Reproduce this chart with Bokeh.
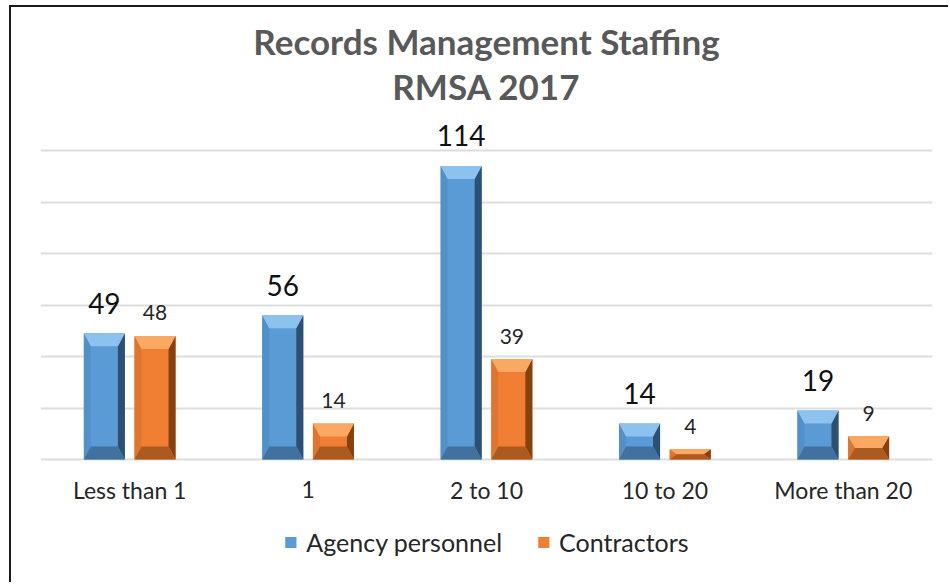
import numpy as np
from bokeh.plotting import figure
from bokeh.models import (ColumnDataSource, FixedTicker, Legend, LegendItem,
                          Label, Grid)
from bokeh.core.properties import value
from bokeh.embed import file_html
from bokeh.resources import INLINE

# ---------------- data ----------------
categories = ["Less than 1", "1", "2 to 10", "10 to 20", "More than 20"]
agency = [49, 56, 114, 14, 19]
contractors = [48, 14, 39, 4, 9]
series_names = ["Agency personnel", "Contractors"]
y_ticks = [0, 20, 40, 60, 80, 100, 120]
title_lines = ["Records Management Staffing", "RMSA 2017"]

# ---------------- layout ----------------
FONT = "Lato"
W, H = 939, 577
BASE_PX = 452              # canvas y of value 0
PX_PER_UNIT = 309 / 120.0  # grid 0..120 spans 309 px
Y_END = BASE_PX / PX_PER_UNIT
Y_START = -(H - BASE_PX) / PX_PER_UNIT

def ypix(py):
    """canvas pixel row -> data value"""
    return (BASE_PX - py) / PX_PER_UNIT

p = figure(width=W, height=H, x_range=(0, len(categories)), y_range=(Y_START, Y_END),
           output_backend="svg", toolbar_location=None,
           x_axis_location=None, y_axis_location=None,
           min_border_left=29, min_border_right=W - 29 - 892,
           min_border_top=0, min_border_bottom=0,
           styles={"margin-left": "9px", "margin-top": "5px",
                   "border-left": "2px solid #1a1a1a", "border-top": "2px solid #1a1a1a"})
p.outline_line_color = None
p.background_fill_color = "white"
p.border_fill_color = "white"
p.xgrid.visible = False
p.ygrid.visible = False
p.add_layout(Grid(dimension=1, ticker=FixedTicker(ticks=y_ticks),
                  grid_line_color="#DDDDDD", grid_line_width=2))

centers = np.arange(len(categories)) + 0.5
OFF = 0.142
BW = 0.23
BX = 7 / 178.4          # bevel width in category units
BY = 13 / PX_PER_UNIT   # bevel height in value units

styles = [
    dict(face="#5B9BD5", top="#8DC1EE", bottom="#41719E", left="#5290C9", right="#2C4F72"),
    dict(face="#F07F33", top="#FBA862", bottom="#AD5A20", left="#E0752D", right="#86410F"),
]

renderers = []
for k, (vals, st) in enumerate(zip([agency, contractors], styles)):
    xs = centers + (-OFF if k == 0 else OFF)
    h = np.array(vals, dtype=float)
    src = ColumnDataSource(dict(x=xs, top=h))
    r = p.vbar(x="x", top="top", width=BW, bottom=0, source=src,
               fill_color=st["face"], line_color=None)
    renderers.append(r)
    x0 = xs - BW / 2
    x1 = xs + BW / 2
    by = np.minimum(BY, h / 2)
    parts = {
        "top": ([[a, b, b - BX, a + BX] for a, b in zip(x0, x1)],
                [[t, t, t - d, t - d] for t, d in zip(h, by)]),
        "bottom": ([[a, b, b - BX, a + BX] for a, b in zip(x0, x1)],
                   [[0, 0, d, d] for d in by]),
        "left": ([[a, a, a + BX, a + BX] for a in x0],
                 [[0, t, t - d, d] for t, d in zip(h, by)]),
        "right": ([[b, b, b - BX, b - BX] for b in x1],
                  [[0, t, t - d, d] for t, d in zip(h, by)]),
    }
    for name in ["left", "right", "top", "bottom"]:
        pxs, pys = parts[name]
        p.patches(pxs, pys, fill_color=st[name], line_color=None)

    # value labels
    lab_src = ColumnDataSource(dict(x=xs, y=h, t=[str(v) for v in vals]))
    p.text(x="x", y="y", text="t", source=lab_src, text_align="center",
           text_baseline="alphabetic", y_offset=(-30 if k == 0 else -23),
           text_font=value(FONT),
           text_font_size=("28px" if k == 0 else "21px"),
           text_color=("#111111" if k == 0 else "#262626"))

# category labels
cat_src = ColumnDataSource(dict(x=centers, y=[ypix(482)] * len(categories), t=categories))
p.text(x="x", y="y", text="t", source=cat_src, text_align="center",
       text_baseline="middle", text_font=value(FONT), text_font_size="23px",
       text_color="#262626")

# title
for i, line in enumerate(title_lines):
    p.add_layout(Label(x=len(categories) / 2, y=ypix(33 + 45 * i), text=line,
                       text_align="center", text_baseline="middle",
                       text_font=FONT, text_font_size="35px",
                       text_font_style="bold", text_color="#595959"))

legend = Legend(items=[LegendItem(label=n, renderers=[r]) for n, r in zip(series_names, renderers)],
                orientation="horizontal", location="bottom_center",
                glyph_width=14, glyph_height=14, label_standoff=9, spacing=34,
                label_text_font=FONT, label_text_font_size="25px",
                label_text_color="#262626", border_line_color=None,
                background_fill_alpha=0, margin=27, padding=0)
p.add_layout(legend, "center")

open("out.html", "w").write(file_html(p, INLINE))
